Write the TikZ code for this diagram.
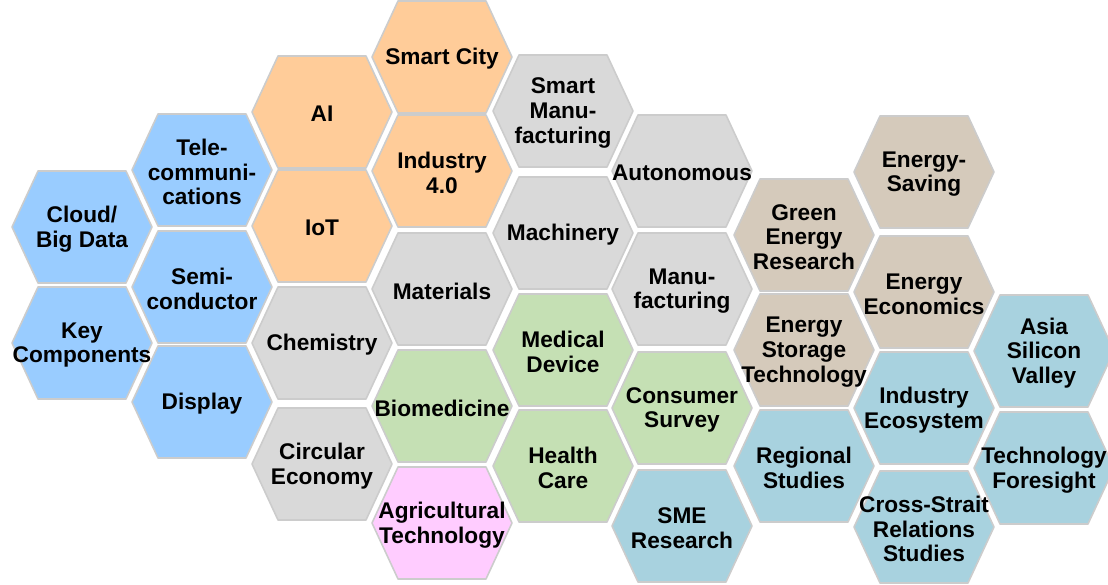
\documentclass[tikz,border=0pt]{standalone}
\usepackage{fontspec}
\setmainfont{Liberation Sans}
\usepackage{xcolor}
\usepackage{tikz}

\definecolor{hexblue}{RGB}{153,204,255}
\definecolor{hexorange}{RGB}{255,204,153}
\definecolor{hexgrey}{RGB}{217,217,217}
\definecolor{hexgreen}{RGB}{197,224,180}
\definecolor{hexpink}{RGB}{255,204,255}
\definecolor{hextan}{RGB}{213,202,187}
\definecolor{hexteal}{RGB}{168,210,223}

\begin{document}
\begin{tikzpicture}[
    x=0.75pt, y=-0.75pt,
    hexcell/.style={draw=black!20, line width=1.2pt, line join=round},
    hexlabel/.style={align=center, inner sep=0pt, yshift=-1.5pt, font=\fontsize{17pt}{18.5pt}\selectfont\bfseries}
]
    \useasboundingbox (0,0) rectangle (1108,585);

    % Cells: name / centre x / centre y / colour / label
    \foreach \nm/\cx/\cy/\col/\txt in {
        cloud/82/227/hexblue/{Cloud/\\Big Data},
        keycomp/82/343/hexblue/{Key\\Components},
        tele/202/170/hexblue/{Tele-\\communi-\\cations},
        semi/202/287/hexblue/{Semi-\\conductor},
        display/202/402/hexblue/{Display},
        ai/322/112/hexorange/{AI},
        iot/322/226/hexorange/{IoT},
        chem/322/343/hexgrey/{Chemistry},
        circular/322/464/hexgrey/{Circular\\Economy},
        smartcity/442/57/hexorange/{Smart City},
        industry/442/171/hexorange/{Industry\\4.0},
        materials/442/289/hexgrey/{Materials},
        biomed/442/406/hexgreen/{Biomedicine},
        agri/442/523/hexpink/{Agricultural\\Technology},
        smartmanu/563/111/hexgrey/{Smart\\Manu-\\facturing},
        machinery/563/233/hexgrey/{Machinery},
        meddev/563/350/hexgreen/{Medical\\Device},
        health/563/466/hexgreen/{Health\\Care},
        auto/682/171/hexgrey/{Autonomous},
        manu/682/289/hexgrey/{Manu-\\facturing},
        consumer/682/408/hexgreen/{Consumer\\Survey},
        sme/682/526/hexteal/{SME\\Research},
        greenres/804/235/hextan/{Green\\Energy\\Research},
        storage/804/350/hextan/{Energy\\Storage\\Technology},
        regional/804/466/hexteal/{Regional\\Studies},
        saving/924/172/hextan/{Energy-\\Saving},
        econ/924/292/hextan/{Energy\\Economics},
        ecosys/924/408/hexteal/{Industry\\Ecosystem},
        cross/924/527/hexteal/{Cross-Strait\\Relations\\Studies},
        asia/1044/351/hexteal/{Asia\\Silicon\\Valley},
        foresight/1044/468/hexteal/{Technology\\Foresight}}
    {
        \path[hexcell, fill=\col] (\cx,\cy) ++(-70,0) -- ++(26,-56) -- ++(88,0)
            -- ++(26,56) -- ++(-26,56) -- ++(-88,0) -- cycle;
        \node[hexlabel] (\nm) at (\cx,\cy) {\txt};
    }

\end{tikzpicture}
\end{document}
